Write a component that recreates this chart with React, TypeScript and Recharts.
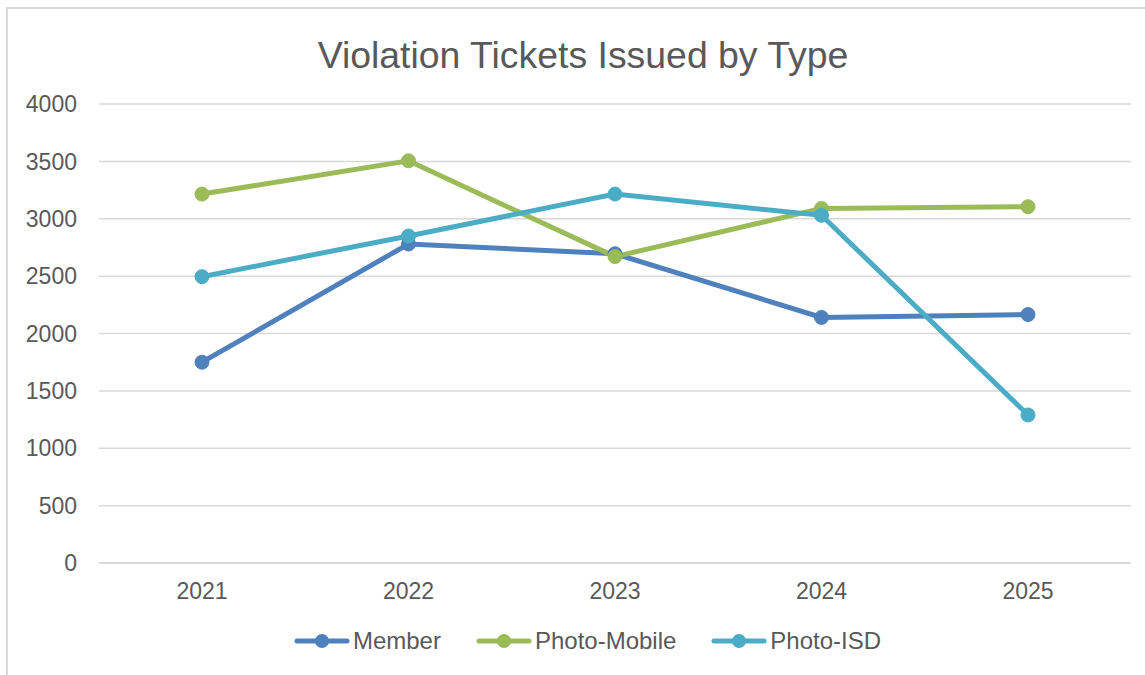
import { CartesianGrid, Legend, Line, LineChart, XAxis, YAxis } from "recharts";

const years = ["2021", "2022", "2023", "2024", "2025"];
const member = [1750, 2780, 2695, 2140, 2165];
const photoMobile = [3215, 3505, 2670, 3090, 3105];
const photoIsd = [2495, 2850, 3215, 3030, 1290];
const yTicks = [0, 500, 1000, 1500, 2000, 2500, 3000, 3500, 4000];

const seriesList = [
  { key: "Member", color: "#4F81BD" },
  { key: "Photo-Mobile", color: "#9BBB59" },
  { key: "Photo-ISD", color: "#4BACC6" },
];

const data = years.map((year, i) => ({
  year,
  Member: member[i],
  "Photo-Mobile": photoMobile[i],
  "Photo-ISD": photoIsd[i],
}));

const font = "'Liberation Sans', Arial, sans-serif";
const textColor = "#595959";

function LegendContent() {
  return (
    <div style={{ display: "flex", justifyContent: "center", alignItems: "center", fontFamily: font, fontSize: 24, color: textColor, paddingLeft: 44 }}>
      {seriesList.map((s, i) => (
        <div key={s.key} style={{ display: "flex", alignItems: "center", marginLeft: i === 0 ? 0 : 35 }}>
          <svg width={56} height={16} style={{ marginRight: 3 }}>
            <line x1={3} y1={8} x2={53} y2={8} stroke={s.color} strokeWidth={5} strokeLinecap="round" />
            <circle cx={28} cy={8} r={7} fill={s.color} />
          </svg>
          <span>{s.key}</span>
        </div>
      ))}
    </div>
  );
}

export default function App() {
  return (
    <div style={{ position: "fixed", left: 0, top: 0, width: 1145, height: 675, overflow: "hidden", background: "#fff" }}>
      <div style={{ position: "absolute", left: 6, top: 7, width: 1200, height: 700, border: "2px solid #d9d9d9" }} />
      <div style={{ position: "absolute", left: 0, width: 1166, top: 32, textAlign: "center", fontFamily: font, fontSize: 37.4, color: textColor, lineHeight: "46px" }}>
        Violation Tickets Issued by Type
      </div>
      <div style={{ position: "absolute", left: 0, top: 0 }}>
        <LineChart width={1145} height={675} data={data} margin={{ top: 104, right: 14, bottom: 0, left: 0 }}>
          <CartesianGrid stroke="#d9d9d9" strokeWidth={1.5} vertical={false} />
          <XAxis
            dataKey="year"
            axisLine={{ stroke: "#d9d9d9", strokeWidth: 1.5 }}
            tickLine={false}
            tickSize={0}
            tickMargin={20}
            height={33}
            padding={{ left: 103, right: 103 }}
            tick={{ fill: textColor, fontSize: 23, fontFamily: font }}
          />
          <YAxis
            domain={[0, 4000]}
            ticks={yTicks}
            axisLine={false}
            tickLine={false}
            tickSize={0}
            tickMargin={22}
            width={99}
            tick={{ fill: textColor, fontSize: 23, fontFamily: font }}
          />
          <Legend verticalAlign="bottom" height={48} content={<LegendContent />} wrapperStyle={{ paddingTop: 31 }} />
          {seriesList.map((s) => (
            <Line
              key={s.key}
              dataKey={s.key}
              stroke={s.color}
              strokeWidth={5}
              dot={{ r: 7, fill: s.color, stroke: s.color, strokeWidth: 1 }}
              activeDot={false}
              isAnimationActive={false}
            />
          ))}
        </LineChart>
      </div>
    </div>
  );
}
